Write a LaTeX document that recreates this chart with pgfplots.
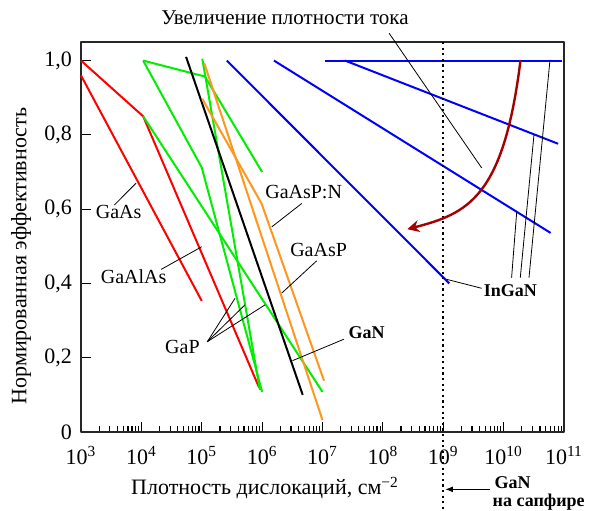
\documentclass[border=0pt]{standalone}
\usepackage{fontspec}
\setmainfont{Liberation Serif}
\usepackage{pgfplots}
\pgfplotsset{compat=1.18}
\usetikzlibrary{arrows.meta}

\definecolor{lnred}{RGB}{255,0,0}
\definecolor{lngreen}{RGB}{0,238,0}
\definecolor{lnorange}{RGB}{255,150,30}
\definecolor{lnblue}{RGB}{0,0,255}
\definecolor{arrowred}{RGB}{165,0,0}

\newcommand{\axisfont}{\fontsize{11}{13}\selectfont}

\begin{document}
\begin{tikzpicture}
\begin{axis}[
  at={(0,0)}, anchor=south west,
  scale only axis, width=241.5pt, height=195pt,
  xmode=log, xmin=1e3, xmax=1e11, ymin=0, ymax=1.05,
  xtick={1e3,1e4,1e5,1e6,1e7,1e8,1e9,1e10,1e11},
  xticklabels={10\textsuperscript{3},10\textsuperscript{4},10\textsuperscript{5},10\textsuperscript{6},10\textsuperscript{7},10\textsuperscript{8},10\textsuperscript{9},10\textsuperscript{10},10\textsuperscript{11}},
  minor xtick={2e3,3e3,4e3,5e3,6e3,7e3,8e3,9e3,
               2e4,3e4,4e4,5e4,6e4,7e4,8e4,9e4,
               2e5,3e5,4e5,5e5,6e5,7e5,8e5,9e5,
               2e6,3e6,4e6,5e6,6e6,7e6,8e6,9e6,
               2e7,3e7,4e7,5e7,6e7,7e7,8e7,9e7,
               2e8,3e8,4e8,5e8,6e8,7e8,8e8,9e8,
               2e9,3e9,4e9,5e9,6e9,7e9,8e9,9e9,
               2e10,3e10,4e10,5e10,6e10,7e10,8e10,9e10},
  ytick={0,0.2,0.4,0.6,0.8,1.0},
  yticklabels={0,{0,2},{0,4},{0,6},{0,8},{1,0}},
  tick pos=left, tick align=inside,
  major tick length=5pt, minor tick length=3pt,
  every tick/.style={black, line width=0.6pt},
  axis line style={black!85, line width=1pt},
  xticklabel style={font=\axisfont, yshift=-3.5pt},
  yticklabel style={font=\axisfont, xshift=-1pt},
  clip=false,
  line join=round,
]
% GaAs and GaAlAs
\addplot[lnred, line width=1pt] coordinates {(1e3,0.96) (1e5,0.353)};
\addplot[lnred, line width=1pt] coordinates {(1e3,1.0) (1.07e4,0.85) (8.9e5,0.12)};
% GaP
\addplot[lngreen, line width=1pt] coordinates {(1.07e4,1.0) (1.13e5,0.957) (1e6,0.70)};
\addplot[lngreen, line width=1pt] coordinates {(1.07e4,1.0) (1e5,0.712) (1e6,0.108)};
\addplot[lngreen, line width=1pt] coordinates {(1.02e5,1.005) (9.2e5,0.113)};
\addplot[lngreen, line width=1pt] coordinates {(1.07e4,0.85) (1e7,0.108)};
% GaN
\addplot[black, line width=1pt] coordinates {(5.5e4,1.01) (4.7e6,0.10)};
% GaAsP and GaAsP:N
\addplot[lnorange, line width=1pt] coordinates {(1.1e5,0.993) (1e7,0.032)};
\addplot[lnorange, line width=1pt] coordinates {(1.02e5,0.897) (9.8e5,0.615) (1.06e7,0.138)};
% InGaN
\addplot[lnblue, line width=1pt] coordinates {(2.6e5,1.0) (1.26e9,0.40)};
\addplot[lnblue, line width=1pt] coordinates {(1.57e6,1.0) (6.0e10,0.536)};
\addplot[lnblue, line width=1pt] coordinates {(1.1e7,1.0) (9.1e10,1.0)};
\addplot[lnblue, line width=1pt] coordinates {(2.36e7,1.0) (8.0e10,0.776)};

% GaN on sapphire marker line
\draw[black, line width=1.1pt, dash pattern=on 1.1pt off 1.7pt]
  (axis cs:1e9,1.05) -- (axis cs:1e9,-0.21);

% curve labels and leaders
\node at (rel axis cs:0.078,0.565) {GaAs};
\draw[line width=0.4pt] (rel axis cs:0.069,0.582) -- (rel axis cs:0.114,0.638);
\node at (rel axis cs:0.109,0.399) {GaAlAs};
\draw[line width=0.4pt] (rel axis cs:0.166,0.417) -- (rel axis cs:0.250,0.475);
\node at (rel axis cs:0.210,0.218) {GaP};
\draw[line width=0.4pt] (rel axis cs:0.2615,0.2315) -- (rel axis cs:0.319,0.343);
\draw[line width=0.4pt] (rel axis cs:0.2615,0.2315) -- (rel axis cs:0.3395,0.326);
\draw[line width=0.4pt] (rel axis cs:0.2615,0.2315) -- (rel axis cs:0.381,0.326);
\node at (rel axis cs:0.461,0.616) {GaAsP:N};
\draw[line width=0.4pt] (rel axis cs:0.457,0.586) -- (rel axis cs:0.395,0.526);
\node at (rel axis cs:0.492,0.467) {GaAsP};
\draw[line width=0.4pt] (rel axis cs:0.488,0.439) -- (rel axis cs:0.4155,0.356);
\node[font=\small\bfseries] at (rel axis cs:0.5915,0.254) {GaN};
\draw[line width=0.4pt] (rel axis cs:0.5445,0.238) -- (rel axis cs:0.438,0.183);
\node[font=\small\bfseries] at (rel axis cs:0.889,0.362) {InGaN};
\draw[line width=0.4pt] (rel axis cs:0.8296,0.3685) -- (rel axis cs:0.757,0.3915);
\draw[line width=0.4pt] (rel axis cs:0.8915,0.3956) -- (rel axis cs:0.902,0.563);
\draw[line width=0.4pt] (rel axis cs:0.9095,0.3956) -- (rel axis cs:0.938,0.764);
\draw[line width=0.4pt] (rel axis cs:0.9275,0.3956) -- (rel axis cs:0.971,0.954);

% current density arrow
\node[anchor=base, font=\fontsize{10.5}{12}\selectfont] at (rel axis cs:0.4224,1.0436) {Увеличение плотности тока};
\draw[line width=0.4pt] (rel axis cs:0.638,1.0223) -- (rel axis cs:0.8296,0.677);
\draw[arrowred, line width=1.2pt, -{Stealth[length=6pt,width=6pt]}]
  (rel axis cs:0.910,0.954) .. controls (rel axis cs:0.875,0.60) and (rel axis cs:0.80,0.56) .. (rel axis cs:0.6755,0.52);

% axis titles
\node[anchor=base, font=\axisfont] at (rel axis cs:0.381,-0.1615) {Плотность дислокаций, см\textsuperscript{−2}};
\node[rotate=90, font=\axisfont] at (rel axis cs:-0.124,0.451) {Нормированная эффективность};

% sapphire note
\draw[line width=0.6pt, -{Latex[length=4pt,width=3pt]}] (rel axis cs:0.847,-0.147) -- (rel axis cs:0.7536,-0.147);
\node[anchor=base, font=\small\bfseries] at (rel axis cs:0.8934,-0.1444) {GaN};
\node[anchor=base, font=\small\bfseries] at (rel axis cs:0.9476,-0.1915) {на сапфире};
\end{axis}
\pgfresetboundingbox
\path[use as bounding box] (-40.5pt,-39pt) rectangle (254pt,216pt);
\end{tikzpicture}
\end{document}
